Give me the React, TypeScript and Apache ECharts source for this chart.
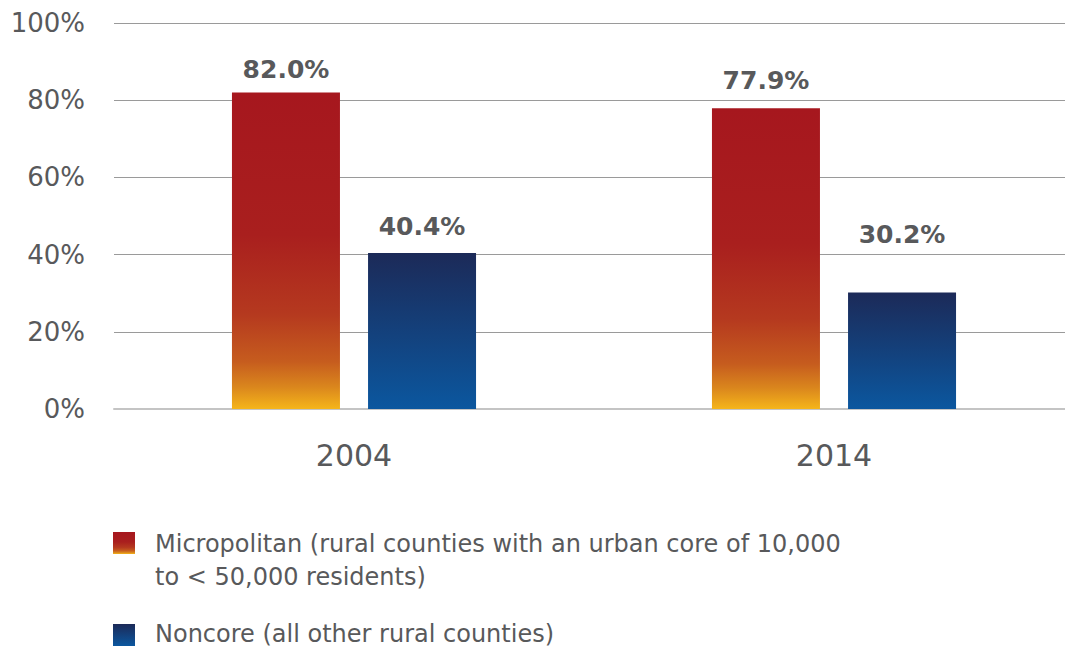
import React, { useEffect, useRef } from "react";
import * as echarts from "echarts";

const categories = ["2004", "2014"];
const micropolitan = [82.0, 77.9];
const noncore = [40.4, 30.2];
const yTicks = [0, 20, 40, 60, 80, 100];
const legendNames = [
  "Micropolitan (rural counties with an urban core of 10,000\nto < 50,000 residents)",
  "Noncore (all other rural counties)",
];

const FONT = "'DejaVu Sans', sans-serif";
const TEXT = "#58595b";

const redGrad = () =>
  new echarts.graphic.LinearGradient(0, 0, 0, 1, [
    { offset: 0, color: "#a6171e" },
    { offset: 0.45, color: "#a91f1e" },
    { offset: 0.7, color: "#b5391f" },
    { offset: 0.85, color: "#c65c1e" },
    { offset: 0.93, color: "#da861d" },
    { offset: 1, color: "#f5b51a" },
  ]);
const blueGrad = () =>
  new echarts.graphic.LinearGradient(0, 0, 0, 1, [
    { offset: 0, color: "#1c2a58" },
    { offset: 1, color: "#0b579f" },
  ]);

export default function App() {
  const ref = useRef<HTMLDivElement>(null);
  useEffect(() => {
    document.body.style.margin = "0";
    document.body.style.overflow = "hidden";
    const chart = echarts.init(ref.current!, undefined, { renderer: "svg" });
    const labelBase = {
      show: true,
      position: "top",
      distance: 10,
      fontFamily: FONT,
      fontWeight: "bold",
      fontSize: 25,
      color: TEXT,
      formatter: (p: any) => p.value.toFixed(1) + "%",
    };
    chart.setOption({
      animation: false,
      backgroundColor: "#ffffff",
      grid: { left: 114, top: 23, right: 0, height: 386, containLabel: false },
      xAxis: {
        type: "category",
        data: categories,
        axisLine: { show: true, lineStyle: { color: "#c4c4c4", width: 2 } },
        axisTick: { show: false },
        axisLabel: { fontFamily: FONT, fontSize: 30, color: TEXT, margin: 31 },
      },
      yAxis: {
        type: "value",
        min: yTicks[0],
        max: yTicks[yTicks.length - 1],
        interval: 20,
        axisLine: { show: false },
        axisTick: { show: false },
        splitLine: { lineStyle: { color: "#9a9a9a", width: 1 } },
        axisLabel: {
          fontFamily: FONT,
          fontSize: 26,
          color: TEXT,
          margin: 29,
          formatter: (v: number) => v + "%",
        },
      },
      series: [
        {
          name: "Micropolitan",
          type: "bar",
          barWidth: 108,
          barGap: "26%",
          itemStyle: { color: redGrad() },
          label: labelBase,
          data: micropolitan.map((v, i) => ({
            value: v,
            label: { distance: i === 0 ? 10 : 15 },
          })),
        },
        {
          name: "Noncore",
          type: "bar",
          barWidth: 108,
          itemStyle: { color: blueGrad() },
          label: labelBase,
          data: noncore.map((v, i) => ({
            value: v,
            label: { distance: i === 0 ? 14 : 45 },
          })),
        },
      ],
      graphic: [
        { type: "rect", shape: { x: 113, y: 532, width: 22, height: 22 }, style: { fill: redGrad() } },
        {
          type: "text",
          x: 155,
          y: 527,
          style: { text: legendNames[0], font: `24px ${FONT}`, fill: TEXT, lineHeight: 33, verticalAlign: "top" },
        },
        { type: "rect", shape: { x: 113, y: 624, width: 22, height: 22 }, style: { fill: blueGrad() } },
        {
          type: "text",
          x: 155,
          y: 617,
          style: { text: legendNames[1], font: `24px ${FONT}`, fill: TEXT, lineHeight: 33, verticalAlign: "top" },
        },
      ],
    });
    return () => chart.dispose();
  }, []);
  return <div ref={ref} style={{ width: 1074, height: 647 }} />;
}
